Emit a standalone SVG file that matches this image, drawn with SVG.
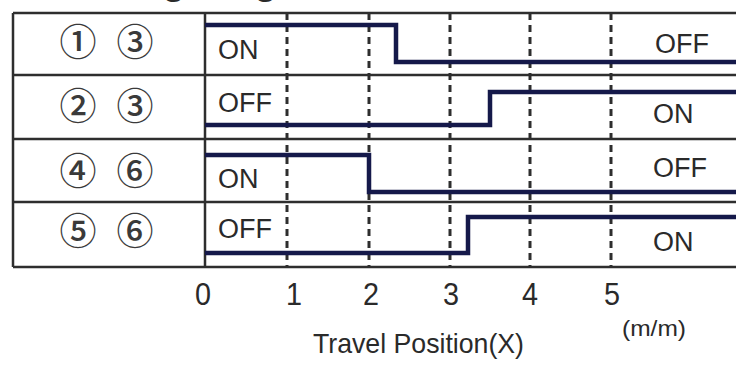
<svg xmlns="http://www.w3.org/2000/svg" width="736" height="365" viewBox="0 0 736 365">
<style>
.t{font-family:"Liberation Sans",Arial,sans-serif;fill:#2a2a2a}
.st{font-size:27px}
.cd{font-family:"Noto Sans CJK JP","DejaVu Sans",sans-serif;font-size:37px;font-weight:500;fill:#3a3a3a;text-anchor:middle}
.grid{stroke:#2e2e2e;stroke-width:2.5;fill:none}
.dash{stroke:#2e2e2e;stroke-width:3;stroke-dasharray:7 5;fill:none}
.sig{stroke:#15194a;stroke-width:4.5;fill:none;stroke-linejoin:miter}
.ax{font-size:32px;text-anchor:middle}
</style>
<rect width="736" height="365" fill="#fff"/>
<text class="t" x="8" y="-6" font-size="37.6" font-weight="bold">Switching Diagram</text>
<g id="table">
<path class="grid" d="M13 13H736M13 75H736M13 139H736M13 202H736M13 267H736M13 13V267M205 13V267"/>
</g>
<g id="gridlines">
<path class="dash" d="M287 13V267M369 13V267M450 13V267M530 13V267M611 13V267"/>
</g>
<g id="connectors">
<path class="sig" d="M205 25H396V62H736"/>
<path class="sig" d="M205 125H490V92H736"/>
<path class="sig" d="M205 155H369V192H736"/>
<path class="sig" d="M205 253H468V217H736"/>
</g>
<g id="row1">
<text class="cd" x="78" y="56">①</text><text class="cd" x="135" y="56">③</text>
<text class="t st" x="218" y="59">ON</text>
<text class="t st" x="655" y="53">OFF</text>
</g>
<g id="row2">
<text class="cd" x="78" y="120">②</text><text class="cd" x="135" y="120">③</text>
<text class="t st" x="218" y="112">OFF</text>
<text class="t st" x="653" y="123">ON</text>
</g>
<g id="row3">
<text class="cd" x="78" y="185">④</text><text class="cd" x="135" y="185">⑥</text>
<text class="t st" x="218" y="188">ON</text>
<text class="t st" x="653" y="177">OFF</text>
</g>
<g id="row4">
<text class="cd" x="78" y="245">⑤</text><text class="cd" x="135" y="245">⑥</text>
<text class="t st" x="218" y="238">OFF</text>
<text class="t st" x="653" y="251">ON</text>
</g>
<g id="axis">
<text class="t ax" x="203" y="305" textLength="16" lengthAdjust="spacingAndGlyphs">0</text>
<text class="t ax" x="294" y="305" textLength="16" lengthAdjust="spacingAndGlyphs">1</text>
<text class="t ax" x="371" y="305" textLength="16" lengthAdjust="spacingAndGlyphs">2</text>
<text class="t ax" x="451" y="305" textLength="16" lengthAdjust="spacingAndGlyphs">3</text>
<text class="t ax" x="530" y="305" textLength="16" lengthAdjust="spacingAndGlyphs">4</text>
<text class="t ax" x="612" y="305" textLength="16" lengthAdjust="spacingAndGlyphs">5</text>
<text class="t" x="622" y="336" font-size="22" textLength="64" lengthAdjust="spacingAndGlyphs">(m/m)</text>
<text class="t" x="313" y="353" font-size="28" textLength="211" lengthAdjust="spacingAndGlyphs">Travel Position(X)</text>
</g>
</svg>
